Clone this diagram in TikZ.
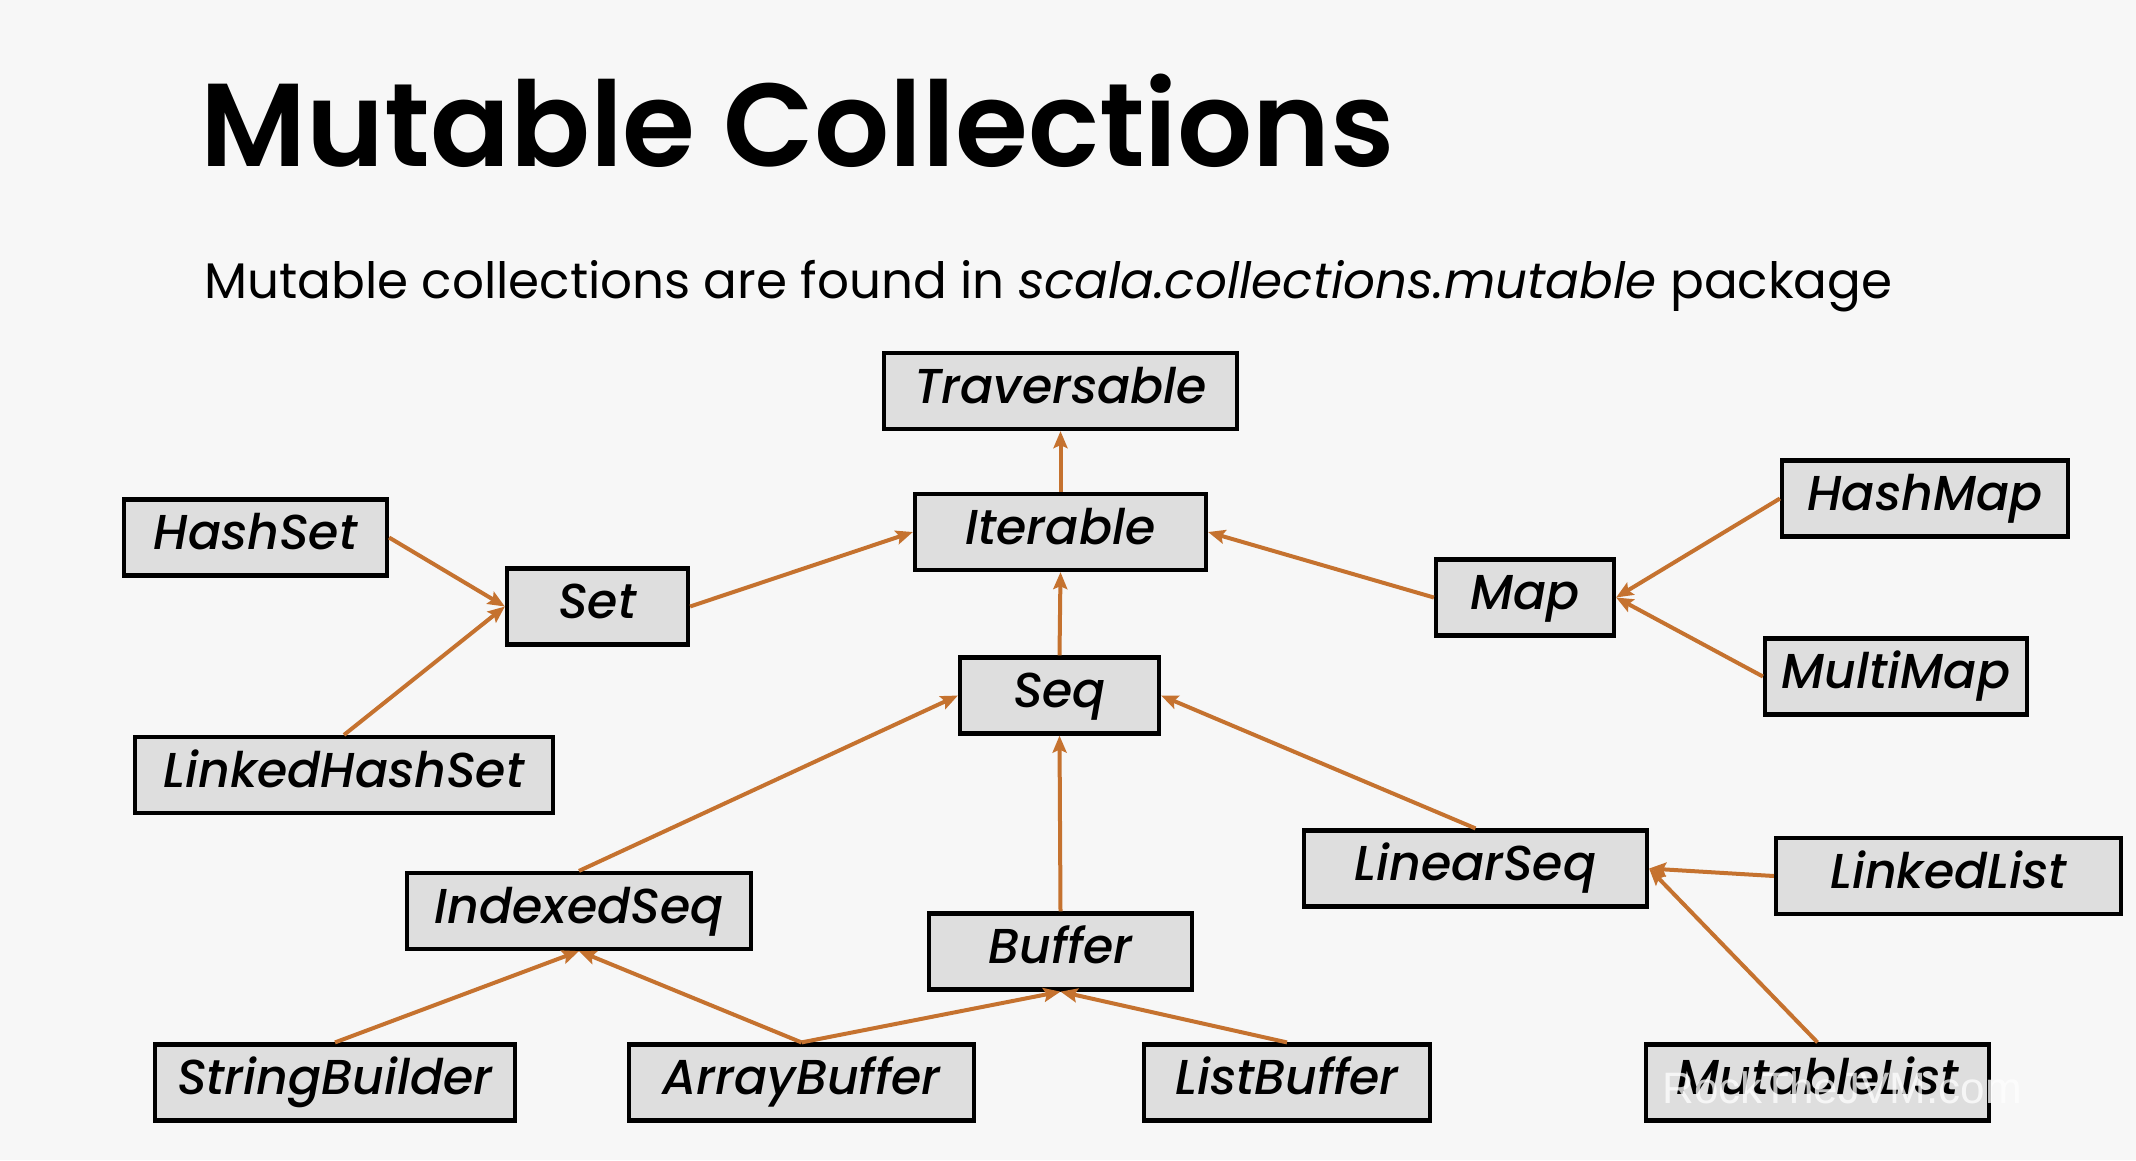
\documentclass[tikz,border=0pt]{standalone}
\usepackage{fontspec}
\setmainfont{Poppins}
\newfontfamily\titlefont{Poppins SemiBold}
\newfontfamily\labelfont{Poppins Medium Italic}
\newfontfamily\markfont{Liberation Sans}
\usetikzlibrary{arrows.meta}
\definecolor{bg}{HTML}{F7F7F7}
\definecolor{boxfill}{HTML}{DEDEDE}
\definecolor{link}{HTML}{C5722F}
\begin{document}
\begin{tikzpicture}[x=1pt,y=-1pt,
  cls/.style={draw=black, line width=4.2pt, fill=boxfill, inner sep=0pt,
    minimum height=76pt, text height=34pt, text depth=10pt,
    font={\labelfont\fontsize{49}{53}\selectfont}},
  inherit/.style={draw=link, line width=4pt,
    -{Stealth[length=17pt,width=14pt,inset=3pt]}}]
% page
\fill[bg] (0,0) rectangle (2136,1160);
\useasboundingbox (0,0) rectangle (2136,1160);

% headings
\node[anchor=base west, inner sep=0pt, font={\titlefont\fontsize{118}{120}\selectfont}] (title) at (200,166) {Mutable Collections};
\node[anchor=base west, inner sep=0pt, font={\fontsize{50}{54}\selectfont}] (subtitle) at (204,298)
  {Mutable collections are found in \textit{scala.collections.mutable} package};

% class boxes
\node[cls, minimum width=353pt] (trav) at (1060.5,391) {Traversable};
\node[cls, minimum width=291pt] (iter) at (1060.5,532) {Iterable};
\node[cls, minimum width=263pt] (hashset) at (255.5,537.5) {HashSet};
\node[cls, minimum width=181pt] (set) at (597.5,606.5) {Set};
\node[cls, minimum width=418pt] (lhs) at (344,775) {LinkedHashSet};
\node[cls, minimum width=178pt] (map) at (1525,597.5) {Map};
\node[cls, minimum width=286pt] (hashmap) at (1925,498.5) {HashMap};
\node[cls, minimum width=262pt] (multimap) at (1896,676.5) {MultiMap};
\node[cls, minimum width=199pt] (seq) at (1059.5,695.5) {Seq};
\node[cls, minimum width=343pt] (linseq) at (1475.5,868.5) {LinearSeq};
\node[cls, minimum width=345pt] (linked) at (1948.5,876) {LinkedList};
\node[cls, minimum width=344pt] (idxseq) at (579,911) {IndexedSeq};
\node[cls, minimum width=263pt] (buffer) at (1060.5,951.5) {Buffer};
\node[cls, minimum width=360pt] (sb) at (335,1082.5) {StringBuilder};
\node[cls, minimum width=345pt] (ab) at (801.5,1082.5) {ArrayBuffer};
\node[cls, minimum width=286pt] (lb) at (1287,1082.5) {ListBuffer};
\node[cls, minimum width=343pt] (ml) at (1817.5,1082.5) {MutableList};

% inheritance links
\draw[inherit] (iter.north) -- (trav.south);
\draw[inherit] (set.east) -- (iter.west);
\draw[inherit] (map.west) -- (iter.east);
\draw[inherit] (seq.north) -- (iter.south);
\draw[inherit] (hashset.east) -- (set.west);
\draw[inherit] (lhs.north) -- (set.west);
\draw[inherit] (hashmap.west) -- (map.east);
\draw[inherit] (multimap.west) -- (map.east);
\draw[inherit] (idxseq.north) -- (seq.west);
\draw[inherit] (buffer.north) -- (seq.south);
\draw[inherit] (linseq.north) -- (seq.east);
\draw[inherit] (linked.west) -- (linseq.east);
\draw[inherit] (ml.north) -- (linseq.east);
\draw[inherit] (sb.north) -- (idxseq.south);
\draw[inherit] (ab.north) -- (idxseq.south);
\draw[inherit] (ab.north) -- (buffer.south);
\draw[inherit] (lb.north) -- (buffer.south);

% watermark
\node[text=white, opacity=0.75, font={\markfont\fontsize{44}{48}\selectfont}] (wm) at (1842,1088) {RockTheJVM.com};
\end{tikzpicture}
\end{document}
